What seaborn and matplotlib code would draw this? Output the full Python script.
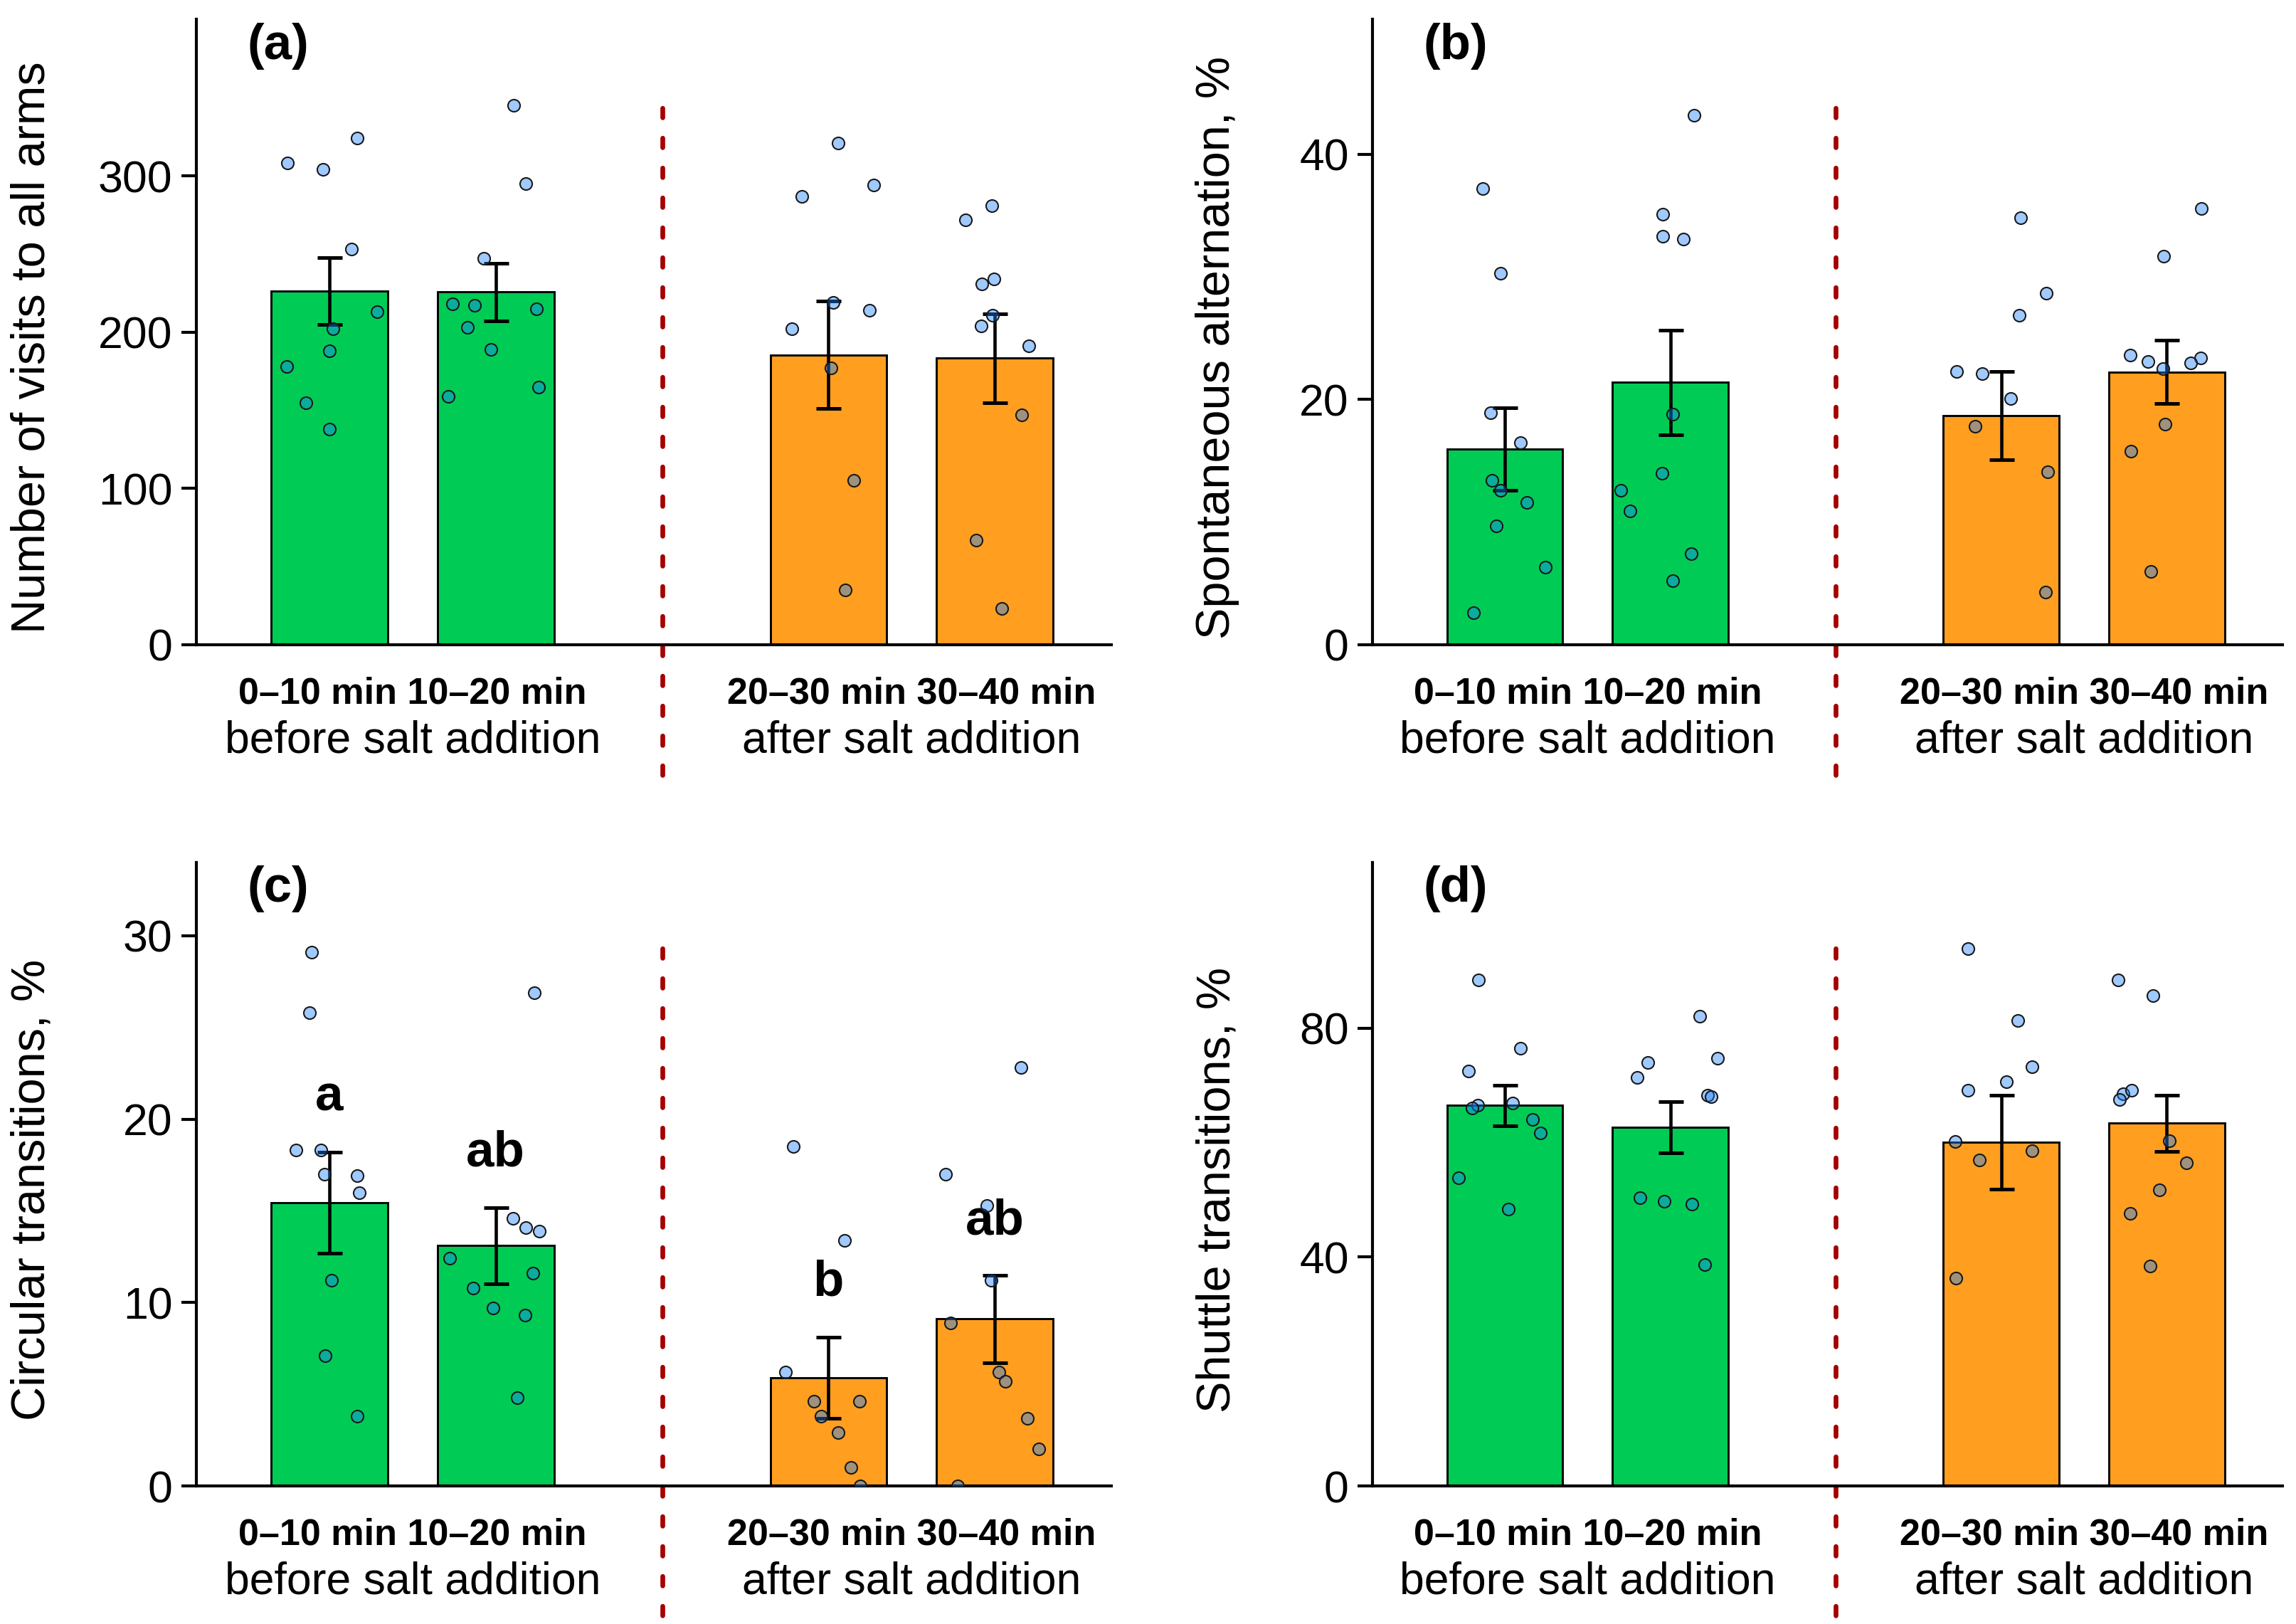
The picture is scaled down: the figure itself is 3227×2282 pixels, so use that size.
import numpy as np
import pandas as pd
import matplotlib
matplotlib.use("Agg")
import matplotlib.pyplot as plt
import seaborn as sns

# ---- data ----
periods = ["0–10 min", "10–20 min", "20–30 min", "30–40 min"]
phases = ["before salt addition", "after salt addition"]
panel_tags = ["(a)", "(b)", "(c)", "(d)"]
ylabels = ["Number of visits to all arms", "Spontaneous alternation, %",
           "Circular transitions, %", "Shuttle transitions, %"]

# (a) number of visits to all arms
visits_pts = [
    [308, 324, 304, 253, 213, 202, 188, 178, 155, 138],
    [345, 295, 247, 218, 217, 215, 203, 189, 165, 159],
    [321, 294, 287, 219, 214, 202, 177, 105, 35],
    [281, 272, 234, 231, 211, 204, 191, 147, 67, 23],
]
visits_mean = [226.2, 225.6, 185.4, 183.3]
visits_se = [21.4, 18.5, 34.3, 28.3]

# (b) spontaneous alternation, %
alt_pts = [
    [37.2, 30.3, 18.9, 16.5, 13.4, 12.6, 11.6, 9.7, 6.3, 2.6],
    [43.2, 35.1, 33.3, 33.1, 18.8, 14.0, 12.6, 10.9, 7.4, 5.2],
    [34.8, 28.7, 26.9, 22.3, 22.1, 20.1, 17.8, 14.1, 4.3],
    [35.6, 31.7, 23.4, 23.6, 23.1, 22.5, 23.0, 18.0, 15.8, 6.0],
]
alt_mean = [15.95, 21.4, 18.7, 22.25]
alt_se = [3.37, 4.25, 3.6, 2.58]

# (c) circular transitions, %
circ_pts = [
    [29.1, 25.8, 18.3, 18.3, 17.0, 16.9, 16.0, 11.2, 7.1, 3.8],
    [26.9, 14.6, 14.1, 13.9, 12.4, 11.6, 10.8, 9.7, 9.3, 4.8],
    [18.5, 13.4, 6.2, 4.6, 4.6, 3.8, 2.9, 1.0, 0.0],
    [22.8, 17.0, 15.3, 11.2, 8.9, 6.2, 5.7, 3.7, 2.0, 0.0],
]
circ_mean = [15.45, 13.1, 5.9, 9.1]
circ_se = [2.75, 2.07, 2.22, 2.37]
circ_letters = ["a", "ab", "b", "ab"]

# (d) shuttle transitions, %
shut_pts = [
    [88.5, 76.5, 72.5, 66.6, 66.9, 66.0, 64.1, 61.7, 53.9, 48.4],
    [82.1, 74.7, 74.0, 71.4, 68.3, 68.1, 50.4, 49.7, 49.2, 38.7],
    [93.9, 81.4, 73.3, 70.7, 69.2, 60.2, 57.0, 58.6, 36.3],
    [88.5, 85.7, 68.5, 69.2, 67.6, 60.3, 56.5, 51.8, 47.6, 38.5],
]
shut_mean = [66.5, 62.7, 60.1, 63.4]
shut_se = [3.55, 4.5, 8.2, 4.95]

y_limits = [400, 51, 34, 109]
y_ticks = [[0, 100, 200, 300], [0, 20, 40], [0, 10, 20, 30], [0, 40, 80]]

# ---- style ----
sns.set_style("ticks")
plt.rcParams["font.family"] = ["Liberation Sans", "DejaVu Sans"]
plt.rcParams.update({"text.color": "black", "axes.labelcolor": "black",
                     "xtick.color": "black", "ytick.color": "black",
                     "axes.edgecolor": "black"})

bar_colors = {periods[0]: "#00CC55", periods[1]: "#00CC55",
              periods[2]: "#FF9E1F", periods[3]: "#FF9E1F"}
point_face = (0.1, 0.5, 1.0, 0.42)
order = [periods[0], periods[1], "gap", periods[2], periods[3]]


def draw_panel(ax, pts, means, ses, ylabel, ymax, yticks, tag, label_x, letters=None):
    df_bar = pd.DataFrame({"period": periods, "mean": means})
    df_pts = pd.DataFrame([(p, v) for p, vals in zip(periods, pts) for v in vals],
                          columns=["period", "value"])

    sns.barplot(data=df_bar, x="period", y="mean", hue="period", order=order,
                hue_order=periods, palette=bar_colors, saturation=1, width=0.7,
                edgecolor="black", linewidth=0.7, errorbar=None, legend=False, ax=ax)

    xpos = [order.index(p) for p in periods]
    ax.errorbar(xpos, means, yerr=ses, fmt="none", ecolor="black",
                elinewidth=1.1, capsize=4.2, capthick=1.2, zorder=3)

    n_before = len(ax.collections)
    sns.stripplot(data=df_pts, x="period", y="value", order=order, color="#1E90FF",
                  jitter=0.3, size=4.1, edgecolor="#1a1a1a", linewidth=0.5,
                  zorder=4, ax=ax)
    for coll in ax.collections[n_before:]:
        coll.set_facecolor(point_face)
        coll.set_edgecolor("#1a1a1a")

    ax.axvline(order.index("gap"), ymin=-0.208, ymax=0.87, clip_on=False,
               color="#A50000", lw=1.6, ls=(0, (2.0, 4.3)),
               dash_capstyle="round", zorder=1)

    ax.set_xlim(-0.8, 4.7)
    ax.set_ylim(0, ymax)
    ax.set_yticks(yticks)
    ax.set_xticks([])
    ax.set_xlabel("")
    ax.set_ylabel(ylabel, fontsize=16)
    ax.yaxis.set_label_coords(label_x, 0.475)
    ax.tick_params(axis="y", direction="out", length=5, width=1.0,
                   labelsize=15, pad=3)
    sns.despine(ax=ax)
    ax.spines["left"].set_linewidth(1.0)
    ax.spines["bottom"].set_linewidth(1.0)

    # two-line group labels under the axis
    for k, phase in enumerate(phases):
        centre = (xpos[2 * k] + xpos[2 * k + 1]) / 2
        ax.annotate(f"{periods[2 * k]} {periods[2 * k + 1]}",
                    xy=(centre, 0), xycoords=("data", "axes fraction"),
                    xytext=(0, -16.5), textcoords="offset points",
                    ha="center", va="center", fontsize=12.5, fontweight="bold")
        ax.annotate(phase, xy=(centre, 0), xycoords=("data", "axes fraction"),
                    xytext=(0, -32.5), textcoords="offset points",
                    ha="center", va="center", fontsize=15)

    ax.text(0.056, 0.995, tag, transform=ax.transAxes, fontsize=17,
            fontweight="bold", ha="left", va="top")

    if letters is not None:
        for x, m, s, lab in zip(xpos, means, ses, letters):
            ax.annotate(lab, xy=(x, m + s), xytext=(0, 14),
                        textcoords="offset points", ha="center",
                        va="baseline", fontsize=17, fontweight="bold")


fig = plt.figure(figsize=(3227 / 300, 2282 / 300), dpi=300)
ax_a = fig.add_axes([0.0855, 0.603, 0.3985, 0.385])
ax_b = fig.add_axes([0.5978, 0.603, 0.3963, 0.385])
ax_c = fig.add_axes([0.0855, 0.085, 0.3985, 0.384])
ax_d = fig.add_axes([0.5978, 0.085, 0.3963, 0.384])

np.random.seed(7)
draw_panel(ax_a, visits_pts, visits_mean, visits_se, ylabels[0], y_limits[0], y_ticks[0],
           panel_tags[0], -0.155)
draw_panel(ax_b, alt_pts, alt_mean, alt_se, ylabels[1], y_limits[1], y_ticks[1],
           panel_tags[1], -0.146)
draw_panel(ax_c, circ_pts, circ_mean, circ_se, ylabels[2], y_limits[2], y_ticks[2],
           panel_tags[2], -0.155, letters=circ_letters)
draw_panel(ax_d, shut_pts, shut_mean, shut_se, ylabels[3], y_limits[3], y_ticks[3],
           panel_tags[3], -0.146)

fig.savefig("out.png", dpi=300)
